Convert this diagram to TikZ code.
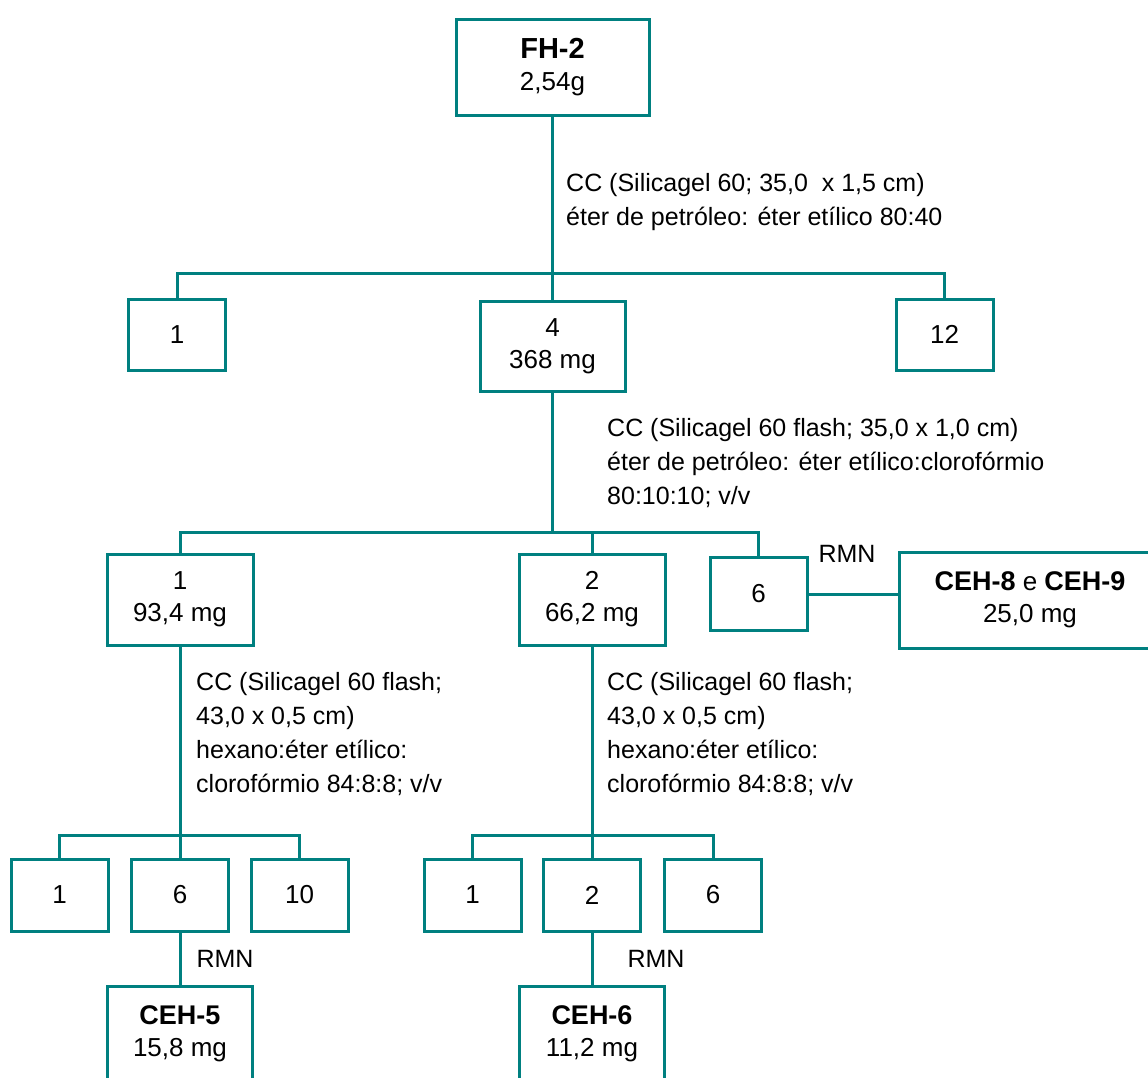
\documentclass[tikz,border=0pt]{standalone}
\usepackage{fontspec}
\setmainfont{Liberation Sans}
\usepackage{tikz}
\usetikzlibrary{positioning, calc}
\definecolor{tealLine}{RGB}{0,128,128}
\tikzset{
    fracBox/.style={rectangle, draw=tealLine, line width=3pt, fill=white, align=center, inner sep=0pt, font=\fontsize{26}{32}\selectfont},
    smallBox/.style={fracBox, minimum width=97pt, minimum height=72pt},
    massBox/.style={fracBox, minimum width=146pt, minimum height=91pt},
    resultBox/.style={fracBox, minimum width=145pt, minimum height=96pt},
    treeLine/.style={draw=tealLine, line width=3pt},
    ccText/.style={anchor=west, align=left, inner sep=0pt, font=\fontsize{25}{34}\selectfont},
    rmnText/.style={inner sep=0pt, font=\fontsize{25}{30}\selectfont}
}
\newcommand{\boldName}[1]{{\fontsize{27}{32}\selectfont\bfseries #1}}

\begin{document}
\begin{tikzpicture}[x=1pt, y=-1pt]

        \useasboundingbox (0,0) rectangle (1148,1077);

        % --- Fractions ---
        \node[resultBox, minimum width=193pt] (fh2) at (552.5,67) {{\fontsize{29}{34}\selectfont\bfseries FH-2}\\2,54g};

        \node[smallBox, minimum height=71pt] (f1) at (177,334.5) {1};
        \node[massBox, minimum width=145pt, minimum height=90pt] (f4) at (552.5,346) {4\\368 mg};
        \node[smallBox, minimum height=71pt] (f12) at (944.5,334.5) {12};

        \node[massBox] (g1) at (180,599.5) {1\\93,4 mg};
        \node[massBox] (g2) at (592,599.5) {2\\66,2 mg};
        \node[smallBox, minimum height=73pt] (g6) at (758.5,594) {6};
        \node[resultBox, minimum width=262pt] (ceh89) at (1030,600) {\boldName{CEH-8} e \boldName{CEH-9}\\25,0 mg};

        \node[smallBox] (h1) at (59.5,895) {1};
        \node[smallBox] (h6) at (180,895) {6};
        \node[smallBox] (h10) at (299.5,895) {10};
        \node[smallBox] (k1) at (472.5,895) {1};
        \node[smallBox] (k2) at (592,895) {2};
        \node[smallBox] (k6) at (713,895) {6};

        \node[resultBox] (ceh5) at (180,1034) {\boldName{CEH-5}\\15,8 mg};
        \node[resultBox] (ceh6) at (592,1034) {\boldName{CEH-6}\\11,2 mg};

        % --- Junctions ---
        \coordinate (j1) at (552.5,273);
        \coordinate (j2) at (552.5,532);
        \coordinate (j3) at (180,835);
        \coordinate (j4) at (592,835);

        % --- Tree lines ---
        \draw[treeLine] (fh2.south) -- (j1) -- (f4.north);
        \draw[treeLine] (f1.north) |- (j1) -| (f12.north);

        \draw[treeLine] (f4.south) -- (j2);
        \draw[treeLine] (g1.north) |- (j2) -| (g6.north);
        \draw[treeLine] (g2.north) -- (g2.north |- j2);

        \draw[treeLine] (g1.south) -- (j3) -- (h6.north);
        \draw[treeLine] (h1.north) |- (j3) -| (h10.north);
        \draw[treeLine] (g2.south) -- (j4) -- (k2.north);
        \draw[treeLine] (k1.north) |- (j4) -| (k6.north);

        % --- RMN links ---
        \draw[treeLine] (g6.east) -- node[rmnText, above=30pt, xshift=-6pt] {RMN} (ceh89.west |- g6.east);
        \draw[treeLine] (h6.south) -- node[rmnText, right=15pt] {RMN} (ceh5.north);
        \draw[treeLine] (k2.south) -- node[rmnText, right=34pt] {RMN} (ceh6.north);

        % --- Column conditions ---
        \node[ccText] (cc1) at (566,202) {CC (Silicagel 60; 35,0\ \ x 1,5 cm)\\éter de petróleo: éter etílico 80:40};
        \node[ccText] (cc2) at (607,463) {CC (Silicagel 60 flash; 35,0 x 1,0 cm)\\éter de petróleo: éter etílico:clorofórmio\\80:10:10; v/v};
        \node[ccText] (cc3) at (196,734) {CC (Silicagel 60 flash;\\43,0 x 0,5 cm)\\hexano:éter etílico:\\clorofórmio 84:8:8; v/v};
        \node[ccText] (cc4) at (607,734) {CC (Silicagel 60 flash;\\43,0 x 0,5 cm)\\hexano:éter etílico:\\clorofórmio 84:8:8; v/v};

\end{tikzpicture}
\end{document}
